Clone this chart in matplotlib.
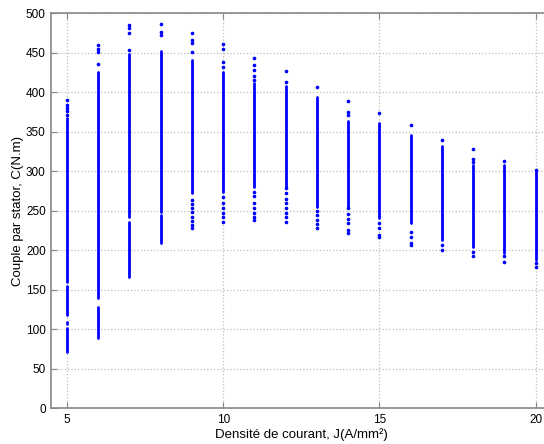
import matplotlib
matplotlib.use("Agg")
import matplotlib.pyplot as plt

# current density J (A/mm2) for each column of results
J = [5, 6, 7, 8, 9, 10, 11, 12, 13, 14, 15, 16, 17, 18, 19, 20]

# dense stretches of each column (low, high), torque in N.m
dense = [
    [(160, 368), (118, 155), (106, 109), (71, 101)],
    [(139, 426), (89, 128)],
    [(242, 448), (166, 235)],
    [(248, 452), (209, 244)],
    [(272, 441)],
    [(274, 426)],
    [(280, 412)],
    [(280, 408)],
    [(255, 394)],
    [(255, 363)],
    [(241, 361)],
    [(234, 346)],
    [(213, 332)],
    [(204, 308)],
    [(196, 308)],
    [(187, 299)],
]

# isolated points outside the dense stretches
sparse = [
    [390, 384, 380, 376, 371],
    [460, 455, 451, 436],
    [485, 481, 475, 453],
    [487, 476, 473],
    [475, 466, 462, 451, 263, 258, 253, 248, 242, 237, 232, 228],
    [461, 455, 438, 432, 267, 260, 253, 247, 242, 236],
    [443, 434, 428, 420, 415, 274, 268, 260, 253, 247, 242, 238],
    [427, 413, 279, 272, 265, 260, 253, 247, 242, 236],
    [407, 250, 244, 238, 233, 228],
    [389, 375, 371, 253, 246, 240, 234, 225, 222],
    [374, 234, 228, 219, 216],
    [358, 223, 217, 209, 206],
    [340, 206, 200],
    [328, 315, 312, 198, 192],
    [313, 192, 185],
    [302, 184, 179],
]

fams = ["Liberation Sans", "DejaVu Sans"]

fig = plt.figure(figsize=(5.44, 4.44), dpi=100)
ax = fig.add_axes([51.3 / 544, 36 / 444, 500 / 544, 394.7 / 444])

for j, segs, pts in zip(J, dense, sparse):
    for lo, hi in segs:
        ax.plot([j, j], [lo, hi], color="#0000ff", lw=2.0, solid_capstyle="round", zorder=3)
    ax.plot([j] * len(pts), pts, ".", color="#0000ff", ms=3.2, zorder=3)

ax.set_xlim(4.5, 20.5)
ax.set_ylim(0, 500)
ax.set_xticks([5, 10, 15, 20])
ax.set_yticks(range(0, 501, 50))
ax.grid(True, linestyle=":", color="#bdbdbd", lw=0.9)
ax.set_axisbelow(True)

for s in ax.spines.values():
    s.set_color("#888888")
    s.set_linewidth(1.2)
ax.tick_params(direction="in", length=4, color="#888888", top=True, right=True,
               labelsize=8.5, labelcolor="black", pad=4)

ax.set_xlabel("Densité de courant, J(A/mm²)", fontsize=9.5, labelpad=2, family=fams)
ax.set_ylabel("Couple par stator, C(N.m)", fontsize=9.5, labelpad=1, family=fams)
for t in ax.get_xticklabels() + ax.get_yticklabels():
    t.set_family(fams)

fig.savefig("out.png", dpi=100)
